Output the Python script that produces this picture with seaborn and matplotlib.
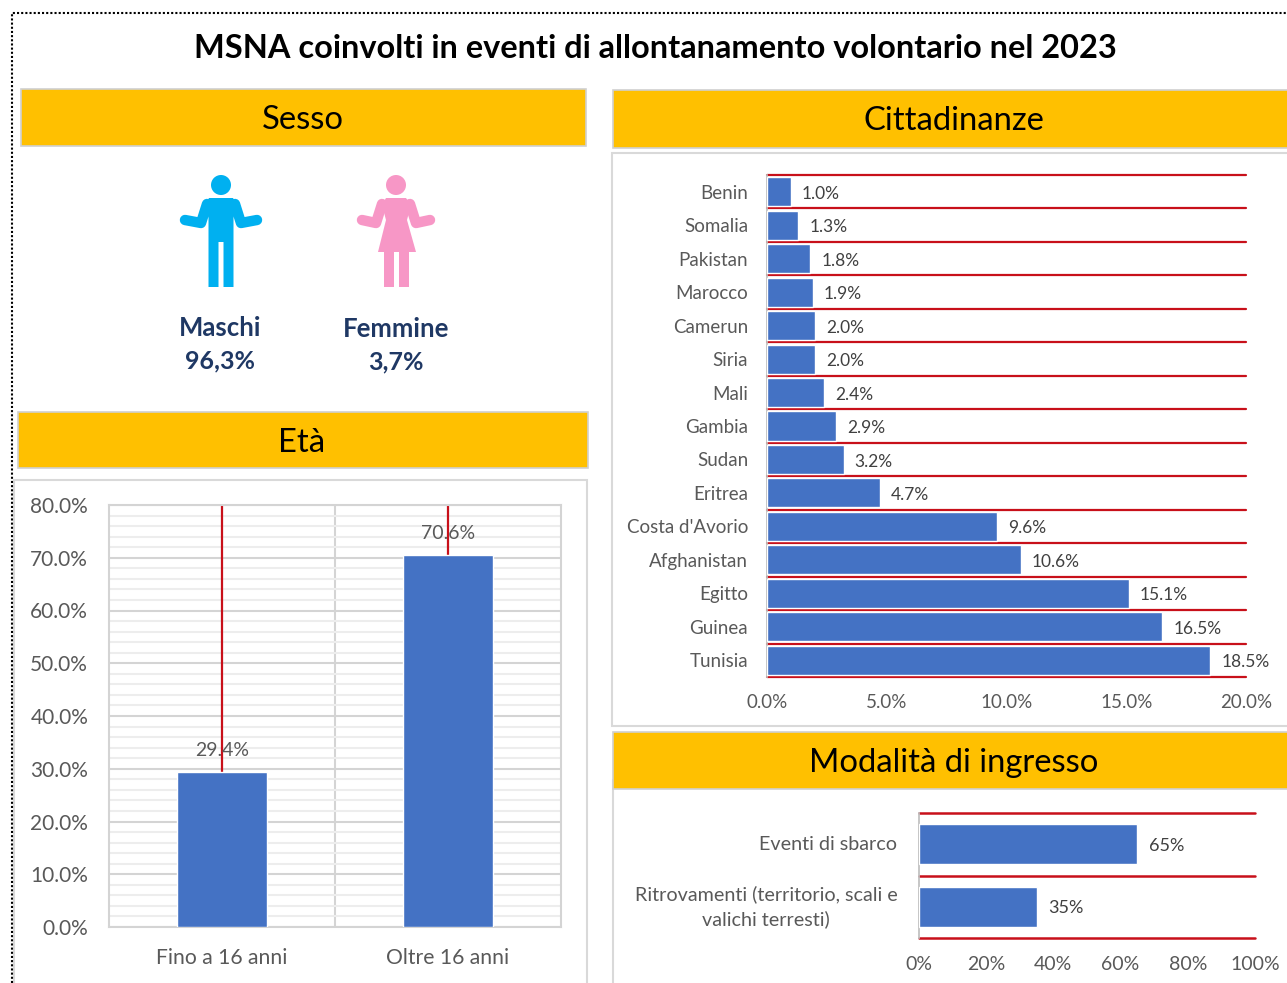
import numpy as np
import pandas as pd
import matplotlib
matplotlib.use("Agg")
import matplotlib.pyplot as plt
from matplotlib.patches import Rectangle, Ellipse, Polygon
from matplotlib.ticker import MultipleLocator, FuncFormatter
import seaborn as sns

title = "MSNA coinvolti in eventi di allontanamento volontario nel 2023"

sesso_labels = ["Maschi", "Femmine"]
sesso_values = ["96,3%", "3,7%"]

eta_labels = ["Fino a 16 anni", "Oltre 16 anni"]
eta_values = [29.4, 70.6]

paesi = ["Benin", "Somalia", "Pakistan", "Marocco", "Camerun", "Siria", "Mali", "Gambia",
         "Sudan", "Eritrea", "Costa d'Avorio", "Afghanistan", "Egitto", "Guinea", "Tunisia"]
paesi_values = [1.0, 1.3, 1.8, 1.9, 2.0, 2.0, 2.4, 2.9, 3.2, 4.7, 9.6, 10.6, 15.1, 16.5, 18.5]

ingresso_labels = ["Eventi di sbarco", "Ritrovamenti (territorio, scali e\nvalichi terresti)"]
ingresso_values = [65, 35]

W, H = 1287, 983
BLUE = "#4472C4"
RED = "#C8101A"
ORANGE = "#FFC000"
GREY = "#595959"
NAVY = "#1F3864"
LINE = "#D9D9D9"

sns.set_theme(style="white")
plt.rcParams["font.family"] = ["Lato", "DejaVu Sans"]

fig = plt.figure(figsize=(W / 100, H / 100), dpi=100)

# sfondo in coordinate pixel per riquadri, bande e icone
bg = fig.add_axes([0, 0, 1, 1])
bg.set_xlim(0, W)
bg.set_ylim(H, 0)
bg.axis("off")


def chart_axes(x0, y0, x1, y1):
    ax = fig.add_axes([x0 / W, 1 - y1 / H, (x1 - x0) / W, (y1 - y0) / H])
    ax.patch.set_visible(False)
    return ax


def banner(x0, y0, x1, y1, text):
    bg.add_patch(Rectangle((x0, y0), x1 - x0, y1 - y0, fc=ORANGE, ec="#D0D0D0", lw=1.2))
    bg.text((x0 + x1) / 2 - 1, (y0 + y1) / 2 + 2.5, text, ha="center", va="center", fontsize=23.6, color="black")


def panel(x0, y0, x1, y1):
    bg.add_patch(Rectangle((x0, y0), x1 - x0, y1 - y0, fc="white", ec=LINE, lw=1.5))


# bordo tratteggiato
bg.plot([11.5, 11.5, W], [H, 13, 13], color="black", lw=1.5, ls=(0, (1, 1)))

bg.text(655, 49, title, ha="center", va="center", fontsize=23.4, fontweight="bold", color="black")

panel(14, 480, 587, H + 10)
panel(612, 153, W + 10, 726)
panel(613, 780, W + 10, H + 10)

banner(21, 89, 586, 146, "Sesso")
banner(613, 90, W + 10, 148, "Cittadinanze")
banner(18, 412, 588, 468, "Età")
banner(613, 732, W + 10, 789, "Modalità di ingresso")


# icone
def arms(cx, color, spread):
    for s in (-1, 1):
        bg.plot([cx + s * 14, cx + s * 20, cx + s * spread],
                [204, 223, 220], color=color, lw=7.5,
                solid_capstyle="round", solid_joinstyle="round")


man = "#00B0F0"
bg.add_patch(Ellipse((221, 185), 20, 20, fc=man, ec="none"))
arms(221, man, 36)
bg.add_patch(Polygon([(208.5, 287), (208.5, 218), (205, 205), (209, 198), (233, 198), (237, 205),
                      (233.5, 218), (233.5, 287), (223.5, 287), (223.5, 242), (218.5, 242), (218.5, 287)],
                     fc=man, ec="none"))

woman = "#F797C6"
bg.add_patch(Ellipse((396, 185), 20, 20, fc=woman, ec="none"))
arms(396, woman, 34)
bg.add_patch(Polygon([(378, 252), (386, 220), (382, 205), (386, 198), (406, 198), (411, 205),
                      (407, 220), (416, 252), (409, 252), (409, 287), (399, 287), (399, 252),
                      (394, 252), (394, 287), (384, 287), (384, 252)],
                     fc=woman, ec="none"))

for x, y1, y2, lab, val in zip([220, 396], [328, 329], [361, 362], sesso_labels, sesso_values):
    bg.text(x, y1, lab, ha="center", va="center", fontsize=18.5, fontweight="bold", color=NAVY)
    bg.text(x, y2, val, ha="center", va="center", fontsize=18, fontweight="bold", color=NAVY)

# Età
ax1 = chart_axes(109, 505, 561, 927)
df_eta = pd.DataFrame({"gruppo": eta_labels, "valore": eta_values})
sns.barplot(data=df_eta, x="gruppo", y="valore", color=BLUE, saturation=1, width=0.4, ax=ax1, zorder=3)
ax1.set_ylim(0, 80)
ax1.set_xlim(-0.5, 1.5)
ax1.set_xlabel("")
ax1.set_ylabel("")
ax1.yaxis.set_major_locator(MultipleLocator(10))
ax1.yaxis.set_minor_locator(MultipleLocator(2))
ax1.yaxis.set_major_formatter(FuncFormatter(lambda v, p: f"{v:.1f}%"))
ax1.set_xticks([0.5], minor=True)
ax1.grid(which="minor", axis="y", color="#EDEDED", lw=1.5)
ax1.grid(which="major", axis="y", color="#D4D4D4", lw=1.5)
ax1.grid(which="minor", axis="x", color="#D4D4D4", lw=1.5)
ax1.set_axisbelow(True)
# linee rosse sulle categorie, sopra la griglia ma dietro le barre
for i in range(len(eta_labels)):
    ax1.axvline(i, color=RED, lw=1.6, zorder=2)
for s in ax1.spines.values():
    s.set_visible(True)
    s.set_color("#D4D4D4")
    s.set_linewidth(1.5)
ax1.tick_params(which="both", length=0)
ax1.tick_params(axis="y", labelsize=15, labelcolor=GREY, pad=15)
ax1.tick_params(axis="x", labelsize=15.2, labelcolor=GREY, pad=15)
ax1.bar_label(ax1.containers[0], labels=[f"{v:.1f}%" for v in eta_values], fontsize=14, color=GREY, padding=9, zorder=5)

# Cittadinanze
ax2 = chart_axes(767, 175, 1246, 677)
df_paesi = pd.DataFrame({"paese": paesi, "valore": paesi_values})
sns.barplot(data=df_paesi, y="paese", x="valore", color=BLUE, saturation=1, width=0.87, ax=ax2, zorder=3)
ax2.set_xlim(0, 20)
ax2.set_ylim(len(paesi) - 0.5, -0.5)
ax2.set_xlabel("")
ax2.set_ylabel("")
ax2.xaxis.set_major_locator(MultipleLocator(5))
ax2.xaxis.set_major_formatter(FuncFormatter(lambda v, p: f"{v:.1f}%"))
ax2.set_yticks(np.arange(len(paesi) + 1) - 0.5, minor=True)
ax2.grid(which="minor", axis="y", color=RED, lw=1.6)
ax2.set_axisbelow(True)
sns.despine(ax=ax2, top=True, right=True, bottom=True, left=False)
ax2.spines["left"].set_color("#BFBFBF")
ax2.tick_params(which="both", length=0)
ax2.tick_params(axis="y", labelsize=13.5, labelcolor=GREY, pad=13.5)
ax2.tick_params(axis="x", labelsize=13.5, labelcolor=GREY, pad=12)
for t in ax2.yaxis.get_minor_ticks():
    t.gridline.set_clip_on(False)
texts = ax2.bar_label(ax2.containers[0], labels=[f"{v:.1f}%" for v in paesi_values], fontsize=12.5, color="#404040", padding=8)
for t in texts:
    t.xyann = (t.xyann[0], -1.5)

# Modalità di ingresso
ax3 = chart_axes(919, 813, 1255, 938)
df_ing = pd.DataFrame({"modo": ingresso_labels, "valore": ingresso_values})
sns.barplot(data=df_ing, y="modo", x="valore", color=BLUE, saturation=1, width=0.64, ax=ax3, zorder=3)
ax3.set_xlim(0, 100)
ax3.set_ylim(len(ingresso_labels) - 0.5, -0.5)
ax3.set_xlabel("")
ax3.set_ylabel("")
ax3.xaxis.set_major_locator(MultipleLocator(20))
ax3.xaxis.set_major_formatter(FuncFormatter(lambda v, p: f"{v:.0f}%"))
ax3.set_yticks(np.arange(len(ingresso_labels) + 1) - 0.5, minor=True)
ax3.grid(which="minor", axis="y", color=RED, lw=1.8)
ax3.set_axisbelow(True)
sns.despine(ax=ax3, top=True, right=True, bottom=True, left=False)
ax3.spines["left"].set_color("#BFBFBF")
ax3.tick_params(which="both", length=0)
ax3.tick_params(axis="y", labelsize=14.2, labelcolor=GREY, pad=15.5)
ax3.tick_params(axis="x", labelsize=14, labelcolor=GREY, pad=13)
for t in ax3.yaxis.get_minor_ticks():
    t.gridline.set_clip_on(False)
for lab in ax3.get_yticklabels():
    lab.set_multialignment("center")
    lab.set_linespacing(1.45)
    lab.set_verticalalignment("center")
texts = ax3.bar_label(ax3.containers[0], labels=[f"{v}%" for v in ingresso_values], fontsize=13, color="#404040", padding=8)
for t in texts:
    t.xyann = (t.xyann[0], -1)

fig.savefig("out.png", dpi=100, facecolor="white")
